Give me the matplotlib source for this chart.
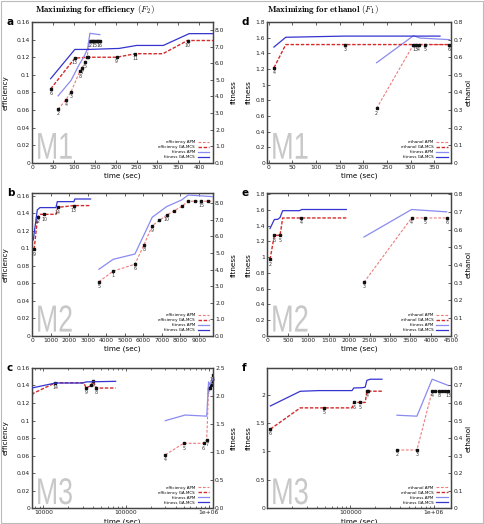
import matplotlib
matplotlib.use("Agg")
import matplotlib.pyplot as plt
from matplotlib.ticker import FixedLocator, FixedFormatter, NullFormatter, LogLocator
from matplotlib.patches import Rectangle, PathPatch
from matplotlib.textpath import TextPath
from matplotlib.font_manager import FontProperties
from matplotlib.transforms import Affine2D

# ---------------- data ----------------
# panel a (efficiency, M1)
a_eff_apm_t = [62, 81, 93, 114, 120, 126, 131, 138, 142, 146, 150, 154, 158, 162]
a_eff_apm = [0.061, 0.072, 0.081, 0.104, 0.108, 0.115, 0.120, 0.139, 0.139, 0.139, 0.139, 0.139, 0.139, 0.139]
a_eff_apm_lbl = ['2', '4', '3', '8', '7', '5', '', '12', '', '', '15', '', '', '16']
a_eff_ga_t = [44, 102, 133, 202, 247, 313, 372, 433]
a_eff_ga = [0.084, 0.119, 0.120, 0.120, 0.124, 0.124, 0.139, 0.139]
a_eff_ga_lbl = ['6', '13', '', '9', '11', None, '10', None]
a_fit_apm_t = [62, 93, 112, 124, 133, 138, 162]
a_fit_apm = [4.04, 4.97, 5.9, 6.4, 6.9, 7.8, 7.72]
a_fit_ga_t = [44, 102, 134, 208, 250, 314, 376, 433]
a_fit_ga = [5.07, 6.83, 6.83, 6.89, 7.07, 7.07, 7.78, 7.78]

# panel b (efficiency, M2)
b_eff_apm_t = [3600, 4370, 5545, 6030, 6480, 6860, 7257, 7650, 8067, 8424, 8780, 9140, 9500, 9760]
b_eff_apm = [0.062, 0.074, 0.082, 0.104, 0.126, 0.132, 0.138, 0.143, 0.148, 0.154, 0.154, 0.154, 0.154, 0.154]
b_eff_apm_lbl = ['5', '1', '6', '8', '9', '', '10', '', '', '', '', '15', '', None]
b_eff_ga_t = [100, 290, 420, 650, 1280, 1380, 2250, 3150]
b_eff_ga = [0.099, 0.136, 0.139, 0.139, 0.139, 0.147, 0.149, 0.149]
b_eff_ga_lbl = ['9', '12', None, '10', None, '14', '13', None]
b_fit_apm_t = [3600, 4370, 5545, 6480, 7257, 8067, 8424, 9760]
b_fit_apm = [4.02, 4.62, 4.94, 7.16, 7.8, 8.2, 8.5, 8.4]
b_fit_ga_t = [54, 270, 415, 1280, 1350, 2250, 2300, 3150]
b_fit_ga = [5.79, 7.6, 7.74, 7.74, 8.1, 8.1, 8.26, 8.26]

# panel c (efficiency, M3, log time)
c_eff_apm_t = [300000, 500000, 870000, 950000, 1000000, 1030000, 1060000, 1090000, 1120000]
c_eff_apm = [0.061, 0.074, 0.074, 0.078, 0.137, 0.137, 0.140, 0.145, 0.152]
c_eff_apm_lbl = ['4', '5', '6', '7', '2', '', '', '13', '16']
c_eff_ga_t = [7200, 14000, 31000, 33000, 38000, 40000, 44000, 75000]
c_eff_ga = [0.130, 0.143, 0.143, 0.137, 0.140, 0.145, 0.137, 0.137]
c_eff_ga_lbl = ['10', '14', None, '9', '', '4', '8', None]
c_fit_apm_t = [300000, 520000, 950000, 1000000, 1040000, 1120000]
c_fit_apm = [1.56, 1.66, 1.64, 2.25, 2.2, 2.3]
c_fit_ga_t = [7200, 14000, 30000, 33000, 75000]
c_fit_ga = [2.14, 2.23, 2.23, 2.25, 2.26]

# panel d (ethanol, M1)
d_eth_apm_t = [228, 306, 311, 317, 330, 382]
d_eth_apm = [0.31, 0.672, 0.672, 0.672, 0.672, 0.672]
d_eth_apm_lbl = ['2', '1', '3', '4', '5', '6']
d_eth_ga_t = [11, 36, 162, 382]
d_eth_ga = [0.54, 0.672, 0.672, 0.672]
d_eth_ga_lbl = ['4', None, '3', None]
d_fit_apm_t = [228, 306, 320, 382]
d_fit_apm = [1.28, 1.625, 1.595, 1.575]
d_fit_ga_t = [11, 36, 160, 362]
d_fit_ga = [1.48, 1.605, 1.62, 1.62]

# panel e (ethanol, M2)
e_eth_apm_t = [2365, 3528, 3855, 4387]
e_eth_apm = [0.303, 0.666, 0.666, 0.666]
e_eth_apm_lbl = ['3', '4', '5', '6']
e_eth_ga_t = [66, 172, 311, 376, 827, 1932]
e_eth_ga = [0.432, 0.568, 0.568, 0.666, 0.666, 0.666]
e_eth_ga_lbl = ['2', '6', '5', None, '4', None]
e_fit_apm_t = [2365, 3528, 4387]
e_fit_apm = [1.256, 1.605, 1.575]
e_fit_ga_t = [66, 172, 254, 311, 376, 786, 842, 1932]
e_fit_ga = [1.363, 1.478, 1.48, 1.503, 1.59, 1.59, 1.605, 1.605]

# panel f (ethanol, M3, log time)
f_eth_apm_t = [363000, 630000, 960000, 1050000, 1150000, 1250000, 1350000, 1500000]
f_eth_apm = [0.332, 0.332, 0.667, 0.667, 0.667, 0.667, 0.667, 0.667]
f_eth_apm_lbl = ['2', '3', '4', '', '8', '', '', '13']
f_eth_ga_t = [11000, 25100, 49000, 105000, 110000, 132000, 151000, 158000, 165000, 240000]
f_eth_ga = [0.451, 0.572, 0.572, 0.572, 0.603, 0.603, 0.603, 0.667, 0.667, 0.667]
f_eth_ga_lbl = ['6', None, '5', None, '6', '5', None, '4', '', None]
f_fit_apm_t = [363000, 630000, 960000, 1500000]
f_fit_apm = [1.637, 1.62, 2.27, 2.16]
f_fit_ga_t = [11000, 25100, 42000, 105000, 110000, 138000, 151000, 158000, 174000, 240000]
f_fit_ga = [1.8, 2.058, 2.07, 2.07, 2.116, 2.12, 2.13, 2.25, 2.27, 2.27]

# ---------------- style ----------------
PINK = '#f07a7a'
RED = '#d42a2a'
LBLUE = '#8a8af0'
DBLUE = '#3434d0'
SPINE = '#444444'
TICKFS = 4.3
plt.rcParams['font.family'] = 'DejaVu Sans'
plt.rcParams['mathtext.fontset'] = 'cm'

fig = plt.figure(figsize=(4.84, 5.24), dpi=100)
fig.add_artist(Rectangle((0.002, 0.002), 0.996, 0.996, transform=fig.transFigure,
                         fill=False, edgecolor='#bbbbbb', lw=0.8))


def tick_style(ax):
    for s in ax.spines.values():
        s.set_color(SPINE)
        s.set_linewidth(0.9)
    ax.tick_params(direction='in', labelsize=TICKFS, length=2.5, width=0.5,
                   colors='#222222', pad=1.5)
    ax.tick_params(which='minor', direction='in', length=1.5, width=0.4)


def red_line(ax, t, v, lbl, color, lw, dashes):
    ax.plot(t, v, color=color, lw=lw, dashes=dashes, zorder=3)
    for x, y, s in zip(t, v, lbl):
        if s is None:
            continue
        ax.plot([x], [y], 's', color='#111111', ms=1.6, zorder=4)
        if s:
            ax.annotate(s, (x, y), xytext=(0, -1.6), textcoords='offset points',
                        ha='center', va='top', fontsize=3.4, color='#333333')


def big_label(ax, s):
    # condensed light-grey model name drawn as a text path
    tp = TextPath((0, 0), s, size=1, prop=FontProperties(family='Liberation Sans'))
    tr = Affine2D().scale(0.148, 0.265).translate(0.02, 0.03) + ax.transAxes
    ax.add_patch(PathPatch(tp, transform=tr, facecolor='#c8c8c8', lw=0, zorder=1))


def panel(rect, letter, mlabel, eff_first, left_lim, right_lim, xlim, log,
          left_ticks, left_fmt, right_ticks, right_fmt, xticks, xfmt,
          eapm, ega, fapm, fga, left_name, right_name, red_name):
    ax = fig.add_axes(rect)
    ax2 = ax.twinx()
    red_ax, blue_ax = (ax, ax2) if eff_first else (ax2, ax)
    red_line(red_ax, eapm[0], eapm[1], eapm[2], PINK, 0.8, (2.5, 1.5))
    red_line(red_ax, ega[0], ega[1], ega[2], RED, 1.0, (2.5, 1.2))
    blue_ax.plot(fapm[0], fapm[1], color=LBLUE, lw=0.9, zorder=3)
    blue_ax.plot(fga[0], fga[1], color=DBLUE, lw=0.9, zorder=3)
    if log:
        ax.set_xscale('log')
        ax.xaxis.set_minor_locator(LogLocator(base=10, subs=range(2, 10)))
        ax.xaxis.set_minor_formatter(NullFormatter())
    ax.set_xlim(*xlim)
    ax.set_ylim(*left_lim)
    ax2.set_ylim(*right_lim)
    ax.xaxis.set_major_locator(FixedLocator(xticks))
    ax.xaxis.set_major_formatter(FixedFormatter(xfmt))
    ax.yaxis.set_major_locator(FixedLocator(left_ticks))
    ax.yaxis.set_major_formatter(FixedFormatter(left_fmt))
    ax2.yaxis.set_major_locator(FixedLocator(right_ticks))
    ax2.yaxis.set_major_formatter(FixedFormatter(right_fmt))
    tick_style(ax)
    tick_style(ax2)
    ax.tick_params(axis='x', which='both', top=True)
    ax.set_xlabel('time (sec)', fontsize=5.2, labelpad=2)
    ax.set_ylabel(left_name, fontsize=5.2)
    ax2.set_ylabel(right_name, fontsize=5.2)
    # y label positions in pixels; the two middle "fitness" labels sit side by side
    x0 = rect[0] * 484
    w = rect[2] * 484
    if eff_first:
        ax.yaxis.set_label_coords((9 - x0) / w, 0.5)
        ax2.yaxis.set_label_coords((231 - x0) / w, 0.5)
    else:
        ax.yaxis.set_label_coords((252 - x0) / w, 0.5)
        ax2.yaxis.set_label_coords((466 - x0) / w, 0.5)
    big_label(ax, mlabel)
    ax.text(-0.14, 1.0, letter, transform=ax.transAxes, fontsize=7.5,
            fontweight='bold', ha='left', va='center')
    hs = [plt.Line2D([], [], color=PINK, lw=0.8, dashes=(2.5, 1.5)),
          plt.Line2D([], [], color=RED, lw=1.0, dashes=(2.5, 1.2)),
          plt.Line2D([], [], color=LBLUE, lw=0.9),
          plt.Line2D([], [], color=DBLUE, lw=0.9)]
    ls = [red_name + ' APM', red_name + ' GA-MCS', 'fitness APM', 'fitness GA-MCS']
    ax2.legend(hs, ls, loc='lower right', fontsize=2.9, frameon=False,
               markerfirst=False, handlelength=2.8, handletextpad=0.8,
               labelspacing=0.25, borderaxespad=0.5)
    return ax


LX, LW = 0.0667, 0.3733
RX, RW = 0.5523, 0.3802
ROWS = [(0.689, 0.269), (0.359, 0.272), (0.030, 0.268)]

eff_ticks = [0, 0.02, 0.04, 0.06, 0.08, 0.1, 0.12, 0.14, 0.16]
eff_fmt = ['0', '0.02', '0.04', '0.06', '0.08', '0.1', '0.12', '0.14', '0.16']
fit8 = list(range(9))
fit8_fmt = ['%.1f' % v for v in fit8]
fit18 = [0, 0.2, 0.4, 0.6, 0.8, 1.0, 1.2, 1.4, 1.6, 1.8]
fit18_fmt = ['0', '0.2', '0.4', '0.6', '0.8', '1', '1.2', '1.4', '1.6', '1.8']
eth = [0, 0.1, 0.2, 0.3, 0.4, 0.5, 0.6, 0.7, 0.8]
eth_fmt = ['0', '0.1', '0.2', '0.3', '0.4', '0.5', '0.6', '0.7', '0.8']

panel([LX, ROWS[0][0], LW, ROWS[0][1]], 'a', 'M1', True, (0, 0.16), (0, 8.48), (0, 433), False,
      eff_ticks, eff_fmt, fit8, fit8_fmt, list(range(0, 401, 50)), [str(v) for v in range(0, 401, 50)],
      (a_eff_apm_t, a_eff_apm, a_eff_apm_lbl), (a_eff_ga_t, a_eff_ga, a_eff_ga_lbl),
      (a_fit_apm_t, a_fit_apm), (a_fit_ga_t, a_fit_ga), 'efficiency', 'fitness', 'efficiency')

panel([LX, ROWS[1][0], LW, ROWS[1][1]], 'b', 'M2', True, (0, 0.163), (0, 8.6), (0, 9760), False,
      eff_ticks, eff_fmt, fit8, fit8_fmt, list(range(0, 9001, 1000)), [str(v) for v in range(0, 9001, 1000)],
      (b_eff_apm_t, b_eff_apm, b_eff_apm_lbl), (b_eff_ga_t, b_eff_ga, b_eff_ga_lbl),
      (b_fit_apm_t, b_fit_apm), (b_fit_ga_t, b_fit_ga), 'efficiency', 'fitness', 'efficiency')

panel([LX, ROWS[2][0], LW, ROWS[2][1]], 'c', 'M3', True, (0, 0.16), (0, 2.5), (7360, 1.13e6), True,
      eff_ticks, eff_fmt, [0, 0.5, 1.0, 1.5, 2.0, 2.5], ['0.0', '0.5', '1.0', '1.5', '2.0', '2.5'],
      [1e4, 1e5, 1e6], ['10000', '100000', '1e+06'],
      (c_eff_apm_t, c_eff_apm, c_eff_apm_lbl), (c_eff_ga_t, c_eff_ga, c_eff_ga_lbl),
      (c_fit_apm_t, c_fit_apm), (c_fit_ga_t, c_fit_ga), 'efficiency', 'fitness', 'efficiency')

panel([RX, ROWS[0][0], RW, ROWS[0][1]], 'd', 'M1', False, (0, 1.8), (0, 0.8), (-3, 386), False,
      fit18, fit18_fmt, eth, eth_fmt, list(range(0, 351, 50)), [str(v) for v in range(0, 351, 50)],
      (d_eth_apm_t, d_eth_apm, d_eth_apm_lbl), (d_eth_ga_t, d_eth_ga, d_eth_ga_lbl),
      (d_fit_apm_t, d_fit_apm), (d_fit_ga_t, d_fit_ga), 'fitness', 'ethanol', 'ethanol')

panel([RX, ROWS[1][0], RW, ROWS[1][1]], 'e', 'M2', False, (0, 1.81), (0, 0.805), (0, 4500), False,
      fit18, fit18_fmt, eth, eth_fmt, list(range(0, 4501, 500)), [str(v) for v in range(0, 4501, 500)],
      (e_eth_apm_t, e_eth_apm, e_eth_apm_lbl), (e_eth_ga_t, e_eth_ga, e_eth_ga_lbl),
      (e_fit_apm_t, e_fit_apm), (e_fit_ga_t, e_fit_ga), 'fitness', 'ethanol', 'ethanol')

panel([RX, ROWS[2][0], RW, ROWS[2][1]], 'f', 'M3', False, (0, 2.47), (0, 0.8), (10100, 1.63e6), True,
      [0, 0.5, 1, 1.5, 2], ['0', '0.5', '1', '1.5', '2'], eth, eth_fmt,
      [1e5, 1e6], ['100000', '1e+06'],
      (f_eth_apm_t, f_eth_apm, f_eth_apm_lbl), (f_eth_ga_t, f_eth_ga, f_eth_ga_lbl),
      (f_fit_apm_t, f_fit_apm), (f_fit_ga_t, f_fit_ga), 'fitness', 'ethanol', 'ethanol')

fig.text(0.196, 0.981, r'$\mathbf{Maximizing\ for\ efficiency\ (}F_2\mathbf{)}$', ha='center', va='center',
         fontsize=6.5)
fig.text(0.667, 0.981, r'$\mathbf{Maximizing\ for\ ethanol\ (}F_1\mathbf{)}$', ha='center', va='center',
         fontsize=6.5)

fig.savefig('out.png', dpi=100)
